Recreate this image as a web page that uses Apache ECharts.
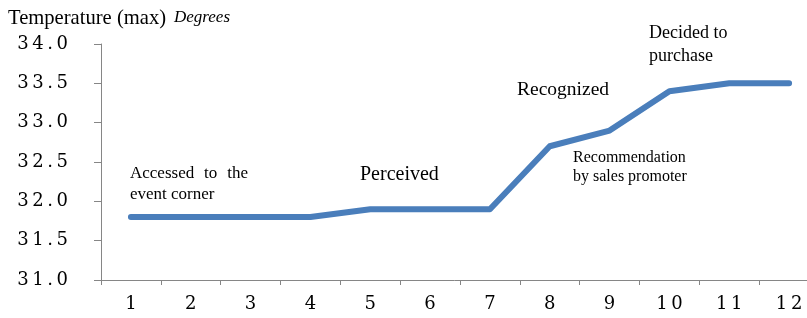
<!DOCTYPE html>
<html>
<head>
<meta charset="utf-8">
<script src="https://cdn.jsdelivr.net/npm/echarts@6/dist/echarts.min.js"></script>
<style>
    html, body { margin: 0; padding: 0; background: #fff; }
    #chart { width: 807px; height: 318px; }
</style>
</head>
<body>
<div id="chart"></div>
<script>
    // data
    const steps = ['1', '2', '3', '4', '5', '6', '7', '8', '9', '10', '11', '12'];
    const tempMax = [31.8, 31.8, 31.8, 31.8, 31.9, 31.9, 31.9, 32.7, 32.9, 33.4, 33.5, 33.5];
    const yMin = 31.0, yMax = 34.0, yStep = 0.5;

    const serif = '"Liberation Serif", "Times New Roman", serif';
    const tickFont = '"DejaVu Serif", serif';
    // tick labels in the picture are set wide, so open them up with thin spaces
    const spaced = s => String(s).split('').join('\u2009');

    function note(text, x, y, size, lineHeight) {
        return {
            type: 'text', x: x, y: y,
            style: {
                text: text, font: size + 'px ' + serif, fill: '#000',
                lineHeight: lineHeight || size * 1.2,
                align: 'left', verticalAlign: 'top'
            }
        };
    }

    const chart = echarts.init(document.getElementById('chart'));
    chart.setOption({
        animation: false,
        grid: { left: 101, top: 44, bottom: 38, right: -12, outerBoundsMode: 'none' },
        xAxis: {
            type: 'category',
            data: steps,
            boundaryGap: true,
            axisLine: { lineStyle: { color: '#868686', width: 1 } },
            axisTick: { show: true, length: 5, lineStyle: { color: '#868686' } },
            axisLabel: {
                margin: 15,
                fontFamily: tickFont, fontSize: 18, color: '#000',
                formatter: v => spaced(v)
            },
            splitLine: { show: false }
        },
        yAxis: {
            type: 'value',
            min: yMin, max: yMax, interval: yStep,
            axisLine: { show: true, lineStyle: { color: '#868686', width: 1 } },
            axisTick: { show: true, length: 7, lineStyle: { color: '#868686' } },
            axisLabel: {
                margin: 33,
                fontFamily: tickFont, fontSize: 18, color: '#000',
                formatter: v => spaced(v.toFixed(1))
            },
            splitLine: { show: false }
        },
        series: [{
            type: 'line',
            data: tempMax,
            symbol: 'none',
            lineStyle: { color: '#4a7ebb', width: 6, cap: 'round', join: 'round' }
        }],
        graphic: [
            note('Temperature (max)', 8, 6, 20.6),
            {
                type: 'text', x: 174, y: 9,
                style: { text: 'Degrees', font: 'italic 17px ' + serif, fill: '#000', verticalAlign: 'top' }
            },
            note('Accessed  \u200ato  \u200athe\nevent corner', 130, 163, 17, 21),
            note('Perceived', 360, 163, 20),
            note('Recognized', 517, 78, 19.5),
            note('Decided to\npurchase', 649, 22, 18, 23),
            note('Recommendation\nby sales promoter', 573, 148, 16, 19)
        ]
    });
</script>
</body>
</html>
